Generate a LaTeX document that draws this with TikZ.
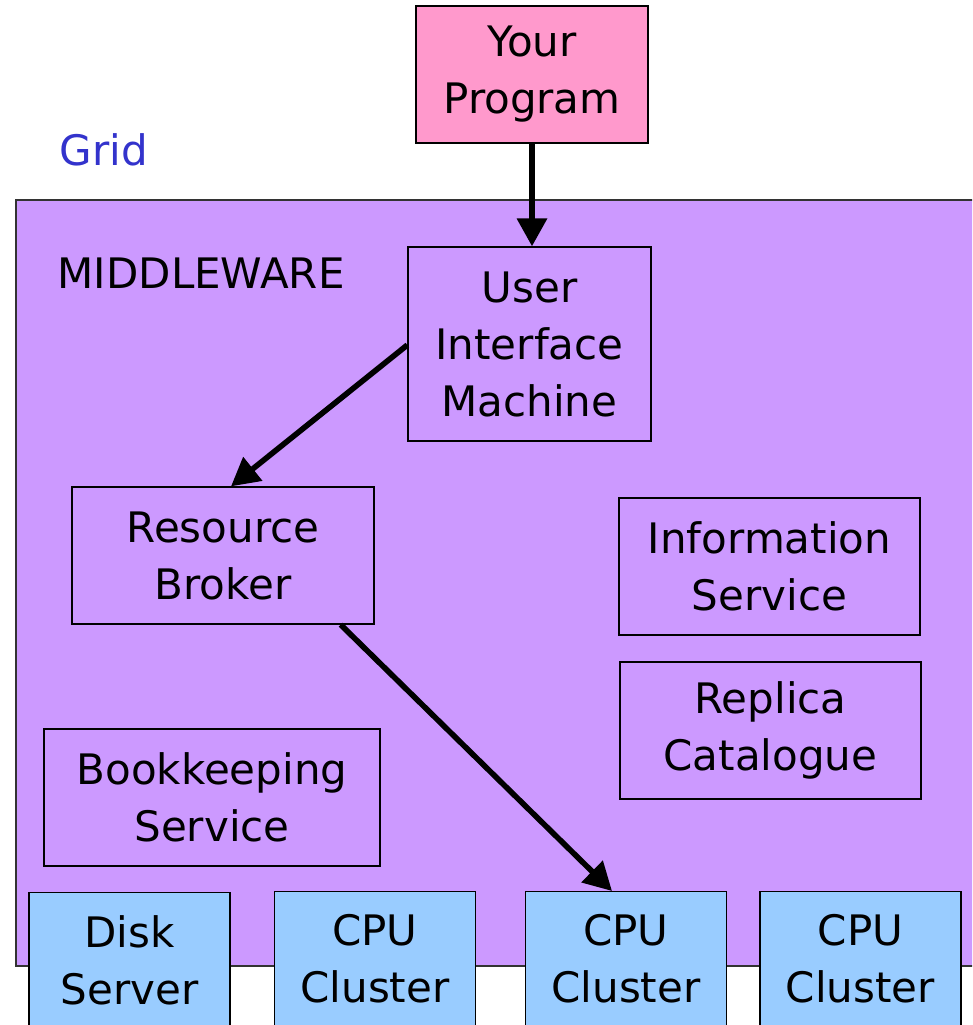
\documentclass[tikz,border=0pt]{standalone}
\usepackage{fontspec}
\setmainfont{DejaVu Sans}
\usepackage{xcolor}
\usetikzlibrary{positioning,arrows.meta}

\definecolor{progpink}{HTML}{FF99CC}
\definecolor{midpurple}{HTML}{CC99FF}
\definecolor{resblue}{HTML}{99CCFF}
\definecolor{gridblue}{HTML}{3333CC}

\begin{document}
\begin{tikzpicture}[
    x=0.75pt,y=-0.75pt,
    font=\fontsize{31.5}{42.75}\selectfont,
    block/.style={rectangle,draw=black,line width=1pt,align=center,inner sep=0pt,minimum height=102.75pt},
    resource/.style={block,fill=resblue,minimum width=150.75pt,minimum height=101.25pt,anchor=north},
    arrow/.style={-{Triangle[length=21pt,width=22pt]},line width=4.2pt,black}
]
\useasboundingbox (0,0) rectangle (972,1025);
\clip (0,0) rectangle (972,1025);

% middleware layer
\draw[fill=midpurple,draw=black!80,line width=1pt] (16,200) rectangle (1100,966);
\node[anchor=base west,text=gridblue] (grid) at (55,165) {Grid};
\node[anchor=base west] (mw) at (53,288) {MIDDLEWARE};

\node[block,fill=progpink,minimum width=174pt] (prog) at (532,74.5) {Your\\Program};
\node[block,minimum width=182.25pt,minimum height=145.5pt] (uim) at (529.5,344) {User\\Interface\\Machine};
\node[block,minimum width=226.5pt] (rb) at (223,555.5) {Resource\\Broker};
\node[block,minimum width=225.75pt] (info) at (769.5,566.5) {Information\\Service};
\node[block,minimum width=225.75pt] (rc) at (770.5,730.5) {Replica\\Catalogue};
\node[block,minimum width=252pt] (bk) at (212,797.5) {Bookkeeping\\Service};

% resources at the bottom
\node[resource] (disk) at (129.5,892) {Disk\\Server};
\node[resource] (cpu1) at (375,891) {CPU\\Cluster};
\node[resource] (cpu2) at (626,891) {CPU\\Cluster};
\node[resource] (cpu3) at (860.5,891) {CPU\\Cluster};

\draw[arrow] (prog.south) -- (prog.south |- uim.north);
\draw[arrow] ([yshift=-0.75pt]uim.west) -- ([xshift=6pt]rb.north);
\draw[arrow] ([xshift=-25.5pt]rb.south east) -- ([xshift=-10.5pt]cpu2.north);

\end{tikzpicture}
\end{document}
